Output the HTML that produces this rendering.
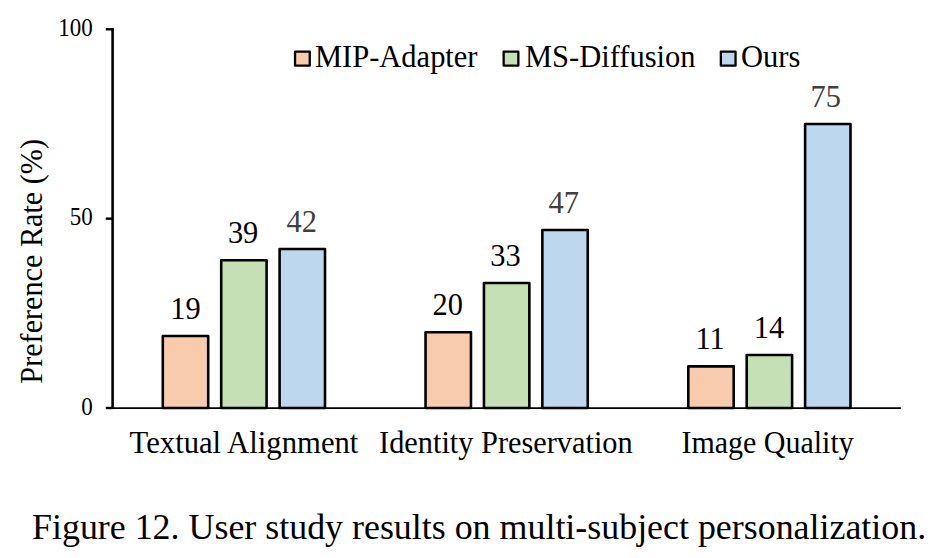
<!DOCTYPE html>
<html><head><meta charset="utf-8"><title>Figure 12</title>
<style>
html,body{margin:0;padding:0;background:#fff;}
body{width:943px;height:558px;overflow:hidden;}
svg{display:block;}
text{font-family:"Liberation Serif","Times New Roman",serif;}
.dl{font-size:30.4px;}
.tk{font-size:23px;}
.cat{font-size:30.4px;}
.lg{font-size:30.5px;}
.yt{font-size:30.2px;}
.cap{font-size:35.9px;}
</style></head>
<body>
<svg width="943" height="558" viewBox="0 0 943 558">
<rect width="943" height="558" fill="#fff"/>
<rect x="162.80" y="336.05" width="45.40" height="71.95" fill="#F8CBAD" stroke="#000" stroke-width="2.6" stroke-linejoin="round"/>
<text class="dl" transform="translate(185.50 318.75) scale(1 1.036)" text-anchor="middle" fill="#000000">19</text>
<rect x="221.20" y="260.31" width="45.40" height="147.69" fill="#C5E0B4" stroke="#000" stroke-width="2.6" stroke-linejoin="round"/>
<text class="dl" transform="translate(243.10 243.01) scale(1 1.036)" text-anchor="middle" fill="#000000">39</text>
<rect x="279.60" y="248.95" width="45.40" height="159.05" fill="#BDD7EE" stroke="#000" stroke-width="2.6" stroke-linejoin="round"/>
<text class="dl" transform="translate(301.80 231.65) scale(1 1.036)" text-anchor="middle" fill="#404040">42</text>
<rect x="425.55" y="332.26" width="45.40" height="75.74" fill="#F8CBAD" stroke="#000" stroke-width="2.6" stroke-linejoin="round"/>
<text class="dl" transform="translate(447.75 314.96) scale(1 1.036)" text-anchor="middle" fill="#000000">20</text>
<rect x="483.95" y="283.03" width="45.40" height="124.97" fill="#C5E0B4" stroke="#000" stroke-width="2.6" stroke-linejoin="round"/>
<text class="dl" transform="translate(505.45 265.73) scale(1 1.036)" text-anchor="middle" fill="#000000">33</text>
<rect x="542.35" y="230.01" width="45.40" height="177.99" fill="#BDD7EE" stroke="#000" stroke-width="2.6" stroke-linejoin="round"/>
<text class="dl" transform="translate(563.75 212.71) scale(1 1.036)" text-anchor="middle" fill="#404040">47</text>
<rect x="688.30" y="366.34" width="45.40" height="41.66" fill="#F8CBAD" stroke="#000" stroke-width="2.6" stroke-linejoin="round"/>
<text class="dl" transform="translate(710.10 349.04) scale(1 1.036)" text-anchor="middle" fill="#000000">11</text>
<rect x="746.70" y="354.98" width="45.40" height="53.02" fill="#C5E0B4" stroke="#000" stroke-width="2.6" stroke-linejoin="round"/>
<text class="dl" transform="translate(768.90 337.68) scale(1 1.036)" text-anchor="middle" fill="#000000">14</text>
<rect x="805.10" y="123.98" width="45.40" height="284.02" fill="#BDD7EE" stroke="#000" stroke-width="2.6" stroke-linejoin="round"/>
<text class="dl" transform="translate(825.80 106.68) scale(1 1.036)" text-anchor="middle" fill="#404040">75</text>
<line x1="112.6" y1="408.1" x2="900.2" y2="408.1" stroke="#000" stroke-width="1.8" stroke-linecap="round"/>
<line x1="112.6" y1="28.0" x2="112.6" y2="409.0" stroke="#000" stroke-width="2.6"/>
<line x1="105.8" y1="408.00" x2="112.6" y2="408.00" stroke="#000" stroke-width="2.4"/>
<text class="tk" transform="translate(92.80 414.80) scale(1 1.08)" text-anchor="end">0</text>
<line x1="105.8" y1="218.65" x2="112.6" y2="218.65" stroke="#000" stroke-width="2.4"/>
<text class="tk" transform="translate(92.80 225.45) scale(1 1.08)" text-anchor="end">50</text>
<line x1="105.8" y1="29.30" x2="112.6" y2="29.30" stroke="#000" stroke-width="2.4"/>
<text class="tk" transform="translate(92.80 36.10) scale(1 1.08)" text-anchor="end">100</text>
<text class="cat" transform="translate(243.97 452.90) scale(1 1.000130293159609)" text-anchor="middle" style="font-size:30.7px">Textual Alignment</text>
<text class="cat" transform="translate(505.88 452.90) scale(1 1.01166392092257)" text-anchor="middle" style="font-size:30.35px">Identity Preservation</text>
<text class="cat" transform="translate(767.58 452.90) scale(1 1.0234666666666665)" text-anchor="middle" style="font-size:30.0px">Image Quality</text>
<rect x="295.05" y="51.55" width="14.70" height="14.10" fill="#F8CBAD" stroke="#000" stroke-width="2.3" stroke-linejoin="round"/>
<text class="lg" transform="translate(315.00 66.60) scale(1 1.06)">MIP-Adapter</text>
<rect x="503.65" y="51.55" width="14.70" height="14.10" fill="#C5E0B4" stroke="#000" stroke-width="2.3" stroke-linejoin="round"/>
<text class="lg" transform="translate(525.00 66.60) scale(1 1.06)">MS-Diffusion</text>
<rect x="720.85" y="51.55" width="14.70" height="14.10" fill="#BDD7EE" stroke="#000" stroke-width="2.3" stroke-linejoin="round"/>
<text class="lg" transform="translate(741.00 66.60) scale(1 1.06)">Ours</text>
<text class="yt" transform="translate(41.70 261.30) rotate(-90) scale(1 1.04)" text-anchor="middle">Preference Rate (%)</text>
<text class="cap" x="32.0" y="538.6">Figure 12. User study results on multi-subject personalization.</text>
</svg>
</body></html>
